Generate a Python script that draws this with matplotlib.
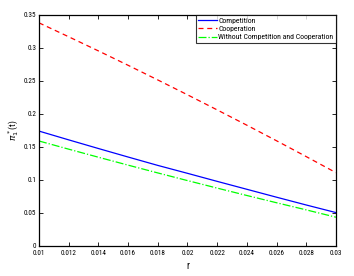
import numpy as np
import matplotlib.pyplot as plt

plt.rcParams['font.family'] = ['Roboto Condensed', 'DejaVu Sans']

r = [0.010, 0.012, 0.014, 0.016, 0.018, 0.020, 0.022, 0.024, 0.026, 0.028, 0.030]
competition = [0.174, 0.1607, 0.1476, 0.1347, 0.1220, 0.1100, 0.0978, 0.0858, 0.0738, 0.0620, 0.0505]
cooperation = [0.338, 0.3169, 0.2955, 0.2737, 0.2515, 0.2290, 0.2061, 0.1829, 0.1593, 0.1353, 0.111]
neither = [0.159, 0.1466, 0.1344, 0.1224, 0.1106, 0.0990, 0.0876, 0.0764, 0.0654, 0.0546, 0.0435]

fig = plt.figure(figsize=(3.54, 2.76), dpi=100)
ax = fig.add_axes([0.110, 0.109, 0.839, 0.837])

ax.plot(r, competition, '-', color='#0000ff', lw=0.9, label='Competition')
ax.plot(r, cooperation, '--', color='#ff0000', lw=0.9, dashes=(4, 3), label='Cooperation')
ax.plot(r, neither, '-.', color='#00ff00', lw=0.9, label='Without Competition and Cooperation')

ax.set_xlim(0.01, 0.03)
ax.set_ylim(0, 0.35)
ax.set_xticks(r)
ax.set_xticklabels(['0.01', '0.012', '0.014', '0.016', '0.018', '0.02', '0.022',
                    '0.024', '0.026', '0.028', '0.03'])
ax.set_yticks([0, 0.05, 0.1, 0.15, 0.2, 0.25, 0.3, 0.35])
ax.set_yticklabels(['0', '0.05', '0.1', '0.15', '0.2', '0.25', '0.3', '0.35'])
ax.tick_params(direction='in', top=True, right=True, labelsize=5.2, length=3, width=0.6)
ax.tick_params(axis='x', pad=3)
ax.tick_params(axis='y', pad=2)
for s in ax.spines.values():
    s.set_linewidth(0.9)

ax.set_xlabel('r', fontsize=7, labelpad=3)
ax.set_ylabel(r'$\pi_1^*$(t)', fontsize=6.5, labelpad=1.5)

leg = ax.legend(loc='upper right', fontsize=5.6, frameon=True, fancybox=False,
                edgecolor='black', handlelength=2.4, handletextpad=0.2,
                borderpad=0.3, labelspacing=0.25, borderaxespad=0)
leg.get_frame().set_linewidth(0.8)

fig.savefig('out.png', dpi=100)
